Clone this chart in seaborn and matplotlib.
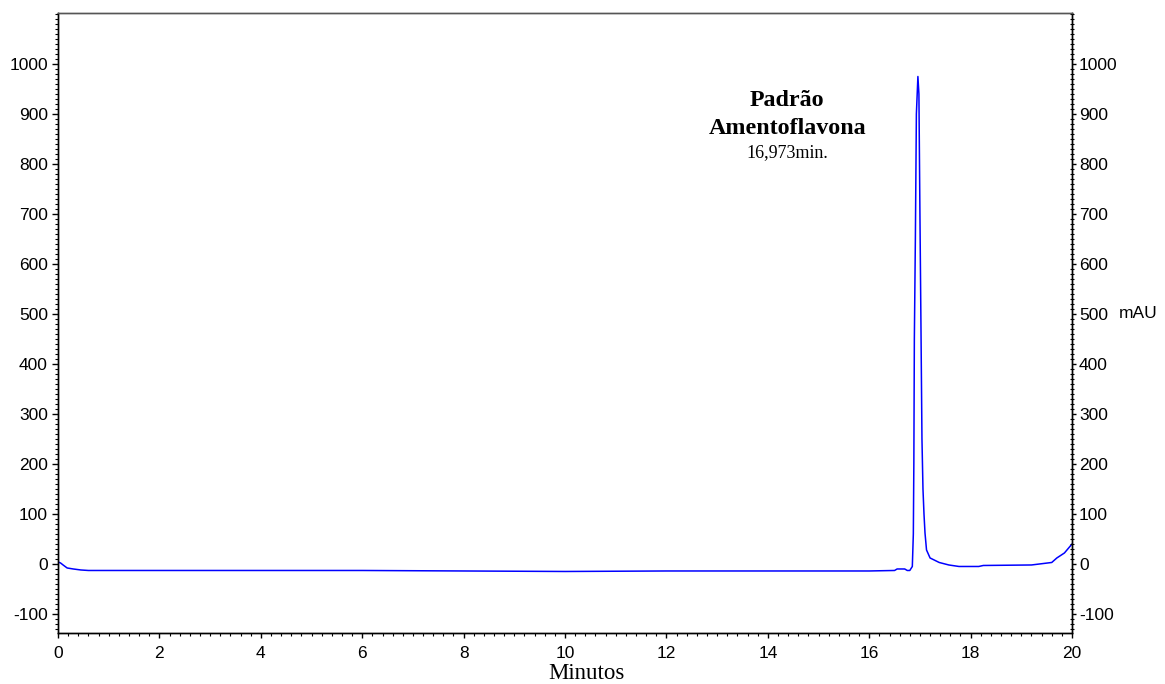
import numpy as np
import matplotlib
matplotlib.use("Agg")
import matplotlib.pyplot as plt
import matplotlib.ticker as mticker
import seaborn as sns

# chromatogram trace (minutes, mAU)
tempo = [0.0, 0.05, 0.1, 0.18, 0.3, 0.45, 0.6, 1.0, 1.5, 2.0, 3.0, 4.0, 6.0,
         8.0, 10.0, 12.0, 14.0, 16.0, 16.5, 16.55, 16.7, 16.75, 16.8, 16.85,
         16.87, 16.88, 16.89, 16.91, 16.93, 16.96, 16.98, 17.0, 17.02, 17.04,
         17.06, 17.08, 17.1, 17.13, 17.2, 17.38, 17.57, 17.77, 18.16, 18.25,
         19.2, 19.6, 19.7, 19.85, 20.0]
mau = [4, 2, -2, -8, -10, -12, -13, -13, -13, -13, -13, -13, -13,
       -14, -15, -14, -14, -14, -13, -10, -10, -13, -13, -5,
       60, 200, 450, 650, 900, 975, 940, 700, 480, 250,
       150, 100, 62, 28, 12, 3, -2, -5, -5, -3,
       -2, 3, 12, 22, 40]

y_ticks = [-100, 0, 100, 200, 300, 400, 500, 600, 700, 800, 900, 1000]
pico_nome = ["Padrão", "Amentoflavona"]
pico_tempo = "16,973min."

sns.set_style("ticks")
plt.rcParams['font.family'] = ['Liberation Sans', 'DejaVu Sans']
plt.rcParams['axes.unicode_minus'] = False
plt.rcParams['text.color'] = 'black'
plt.rcParams['axes.labelcolor'] = 'black'
plt.rcParams['xtick.color'] = 'black'
plt.rcParams['ytick.color'] = 'black'

fig = plt.figure(figsize=(11.65, 6.84), dpi=100)
ax = fig.add_axes([0.0498, 0.0746, 0.8704, 0.9064])

sns.lineplot(x=tempo, y=mau, color='#0000ff', linewidth=1.1, ax=ax)

ax.set_xlim(0, 20)
ax.set_ylim(-138, 1102)

ax.xaxis.set_major_locator(mticker.MultipleLocator(2))
ax.xaxis.set_minor_locator(mticker.MultipleLocator(0.2))
ax.yaxis.set_minor_locator(mticker.MultipleLocator(10))
ax.set_yticks(y_ticks)

# right-hand mAU axis, same scale
ax2 = ax.twinx()
ax2.set_ylim(ax.get_ylim())
ax2.set_yticks(y_ticks)
ax2.yaxis.set_minor_locator(mticker.MultipleLocator(10))

for a in (ax, ax2):
    for s in a.spines.values():
        s.set_linewidth(1.0)
        s.set_color('black')
    a.spines['top'].set_color('#555555')

ax.tick_params(axis='both', which='major', labelsize=12.5, direction='out',
               width=1.0)
ax.tick_params(axis='x', which='major', length=3.6, pad=5.5)
ax.tick_params(axis='y', which='major', length=4.3, pad=3)
ax.tick_params(axis='x', which='minor', length=2.2, width=0.8)
ax.tick_params(axis='y', which='minor', length=2.2, width=0.8)
ax2.tick_params(axis='y', which='major', labelsize=12.5, direction='out',
                length=3, width=1.0, pad=2)
ax2.tick_params(axis='y', which='minor', direction='inout', length=3,
                width=0.8)

ax.set_xlabel("")
ax.set_ylabel("")
fig.text(0.503, 0.008, "Minutos", family='Liberation Serif', fontsize=16.5,
         ha='center', va='baseline')

ax2.annotate("mAU", xy=(1.0, 500), xycoords=('axes fraction', 'data'),
             xytext=(34, 0), textcoords='offset points', fontsize=12.5,
             ha='left', va='center')

ax.text(14.38, 926, pico_nome[0], family='Liberation Serif', fontweight='bold',
        fontsize=17.3, ha='center', va='center')
ax.text(14.38, 871, pico_nome[1], family='Liberation Serif', fontweight='bold',
        fontsize=17.3, ha='center', va='center')
ax.text(14.38, 822, pico_tempo, family='Liberation Serif', fontsize=13,
        ha='center', va='center')

fig.savefig("out.png", dpi=100)
